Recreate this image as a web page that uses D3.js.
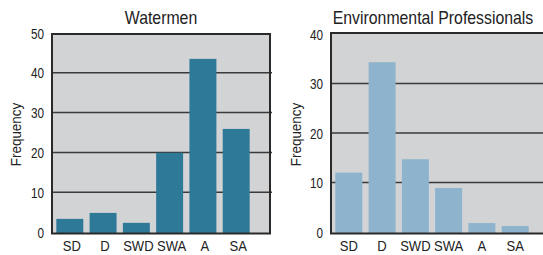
<!DOCTYPE html>
<html><head><meta charset="utf-8">
<script src="https://cdn.jsdelivr.net/npm/d3@7"></script>
<style>
body{margin:0;background:#fff;}
text{font-family:"Liberation Sans",Arial,sans-serif;fill:#222;}
</style></head><body>
<svg id="c" width="543" height="255"></svg>
<script>
const categories = ["SD","D","SWD","SWA","A","SA"];
const watermenValues = [3.3, 4.8, 2.3, 19.9, 43.5, 25.9];
const envProValues = [12, 34.3, 14.7, 8.9, 1.8, 1.2];
const watermenTicks = [0,10,20,30,40,50];
const envProTicks = [0,10,20,30,40];
const titles = ["Watermen","Environmental Professionals"];
const yLabel = "Frequency";

const svg = d3.select("#c");

function drawChart(opt){
  const g = svg.append("g");
  const x = d3.scaleBand().domain(categories).range([opt.left+1, opt.left+1+200]).paddingInner(0.19).paddingOuter(0.1);
  const y = d3.scaleLinear().domain([0, opt.max]).range([232, opt.yTop]);
  g.append("rect").attr("x",opt.left).attr("y",opt.frameTop).attr("width",opt.right-opt.left).attr("height",233.5-opt.frameTop)
    .attr("fill","#d2d3d5");
  g.selectAll(".grid").data(opt.ticks.filter(t=>t>0 && t<opt.max)).join("line")
    .attr("x1",opt.left).attr("x2",opt.gridEnd).attr("y1",d=>y(d)).attr("y2",d=>y(d))
    .attr("stroke","#3a3a3a").attr("stroke-width",1.5);
  g.selectAll(".bar").data(opt.values).join("rect")
    .attr("x",(d,i)=>x(categories[i])).attr("width",x.bandwidth())
    .attr("y",d=>y(d)).attr("height",d=>233-y(d)).attr("fill",opt.color);
  g.append("path").attr("d",`M${opt.left},233.5V${opt.frameTop}H${opt.right}`+(opt.rightBorder?`V233.5`:``))
    .attr("fill","none").attr("stroke","#2a2a2a").attr("stroke-width",2);
  g.append("line").attr("x1",opt.left-1).attr("x2",opt.right+1).attr("y1",233.5).attr("y2",233.5)
    .attr("stroke","#2a2a2a").attr("stroke-width",2);
  const ya = g.append("g").attr("transform",`translate(${opt.left-8},0)`)
    .call(d3.axisLeft(y).tickValues(opt.ticks).tickSize(0).tickPadding(0));
  ya.select(".domain").remove();
  ya.selectAll("text").attr("font-size",14).attr("fill","#222").attr("dy","0.36em").attr("transform","scale(0.84,1)");
  const xa = g.append("g").attr("transform",`translate(${opt.xShift},233)`)
    .call(d3.axisBottom(x).tickSize(0).tickPadding(7));
  xa.select(".domain").remove();
  xa.selectAll("text").attr("font-size",15).attr("fill","#222").attr("transform","scale(0.87,1)");
  g.append("text").attr("transform",`translate(${opt.titleX},24) scale(0.88,1)`).attr("text-anchor","middle")
    .attr("font-size",18).text(opt.title);
  g.append("text").attr("transform",`translate(${opt.ylabX},134.5) rotate(-90) scale(0.96,1)`).attr("text-anchor","middle")
    .attr("font-size",14).text(yLabel);
}

drawChart({left:52,right:270,gridEnd:272,frameTop:34,yTop:33,max:50,ticks:watermenTicks,values:watermenValues,
  color:"#2e7898",title:titles[0],titleX:161,ylabX:21,xShift:2,rightBorder:true});
drawChart({left:331,right:545,gridEnd:545,frameTop:33,yTop:34,max:40,ticks:envProTicks,values:envProValues,
  color:"#8eb3cc",title:titles[1],titleX:433,ylabX:300.5,xShift:0,rightBorder:false});
</script></body></html>
